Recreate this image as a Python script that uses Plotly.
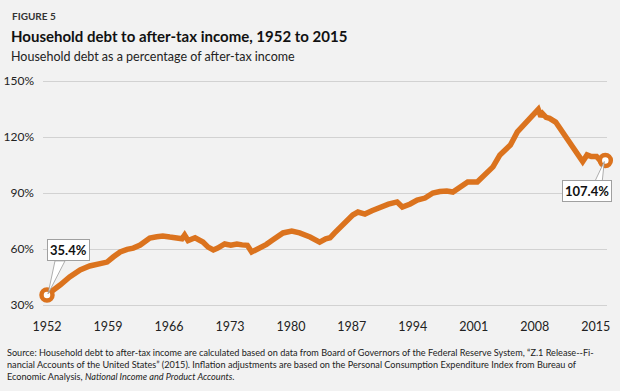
import plotly.graph_objects as go

# ---- data ----
years = [1952.0, 1952.8, 1953.5, 1954.6, 1955.8, 1956.9, 1958.0, 1958.9, 1959.6, 1960.4,
         1961.2, 1961.9, 1962.7, 1963.3, 1963.8, 1964.6, 1965.3, 1966.1, 1966.9, 1967.5,
         1967.8, 1968.2, 1969.0, 1969.9, 1970.5, 1971.1, 1971.6, 1972.4, 1973.1, 1973.8,
         1974.4, 1975.0, 1975.5, 1976.5, 1977.2, 1977.9, 1978.5, 1979.1, 1980.1, 1981.0,
         1982.2, 1983.3, 1984.0, 1984.5, 1985.0, 1985.6, 1986.2, 1987.1, 1987.7, 1988.5,
         1989.3, 1990.2, 1991.2, 1992.2, 1992.8, 1993.7, 1994.5, 1995.4, 1996.3, 1997.1,
         1997.9, 1998.6, 1999.4, 2000.3, 2001.4, 2002.0, 2002.5, 2003.2, 2004.0, 2005.2,
         2006.0, 2006.7, 2007.5, 2008.0, 2008.4, 2008.7, 2008.9, 2009.3, 2009.7, 2010.4,
         2011.0, 2012.0, 2012.7, 2013.3, 2013.5, 2014.0, 2014.5, 2015.1, 2015.6, 2016.1]
debt_pct = [35.4, 38.0, 40.7, 45.0, 48.8, 50.9, 52.0, 53.0, 55.7, 58.4,
            59.8, 60.5, 62.1, 64.5, 65.9, 66.6, 67.0, 66.4, 65.9, 65.5,
            67.5, 64.5, 66.0, 63.7, 61.0, 59.5, 60.5, 62.7, 62.0, 62.7,
            62.2, 62.0, 58.4, 60.5, 62.5, 64.8, 67.0, 68.6, 69.6, 68.6,
            66.4, 63.7, 65.5, 66.0, 68.5, 71.2, 74.5, 78.2, 79.8, 78.7,
            80.5, 82.5, 84.0, 85.2, 82.5, 84.1, 86.2, 87.3, 90.0, 90.8,
            91.1, 90.5, 92.7, 95.9, 95.9, 98.5, 101.2, 104.0, 110.4, 115.7,
            122.7, 126.4, 130.7, 133.0, 134.8, 131.0, 132.5, 130.5, 130.0, 128.0,
            124.0, 116.5, 112.0, 108.0, 106.8, 110.4, 109.5, 109.5, 107.0, 107.4]
tick_years = [1952, 1959, 1966, 1973, 1980, 1987, 1994, 2001, 2008, 2015]
y_ticks = [30, 60, 90, 120, 150]
first_label = "35.4%"
last_label = "107.4%"

ORANGE = "#db731e"
BG = "#f2f2f2"
FONT = "Lato"

fig = go.Figure()
fig.add_trace(go.Scatter(
    x=years, y=debt_pct, mode="lines",
    line=dict(color=ORANGE, width=5.5),
    hoverinfo="skip", showlegend=False))
fig.add_trace(go.Scatter(
    x=[years[0], years[-1]], y=[debt_pct[0], debt_pct[-1]], mode="markers",
    marker=dict(size=11, color="white", line=dict(color=ORANGE, width=4.5)),
    hoverinfo="skip", showlegend=False, cliponaxis=False))

# callout wedges (pixel offsets relative to the data points)
fig.add_shape(type="path", xref="x", yref="y", xsizemode="pixel", ysizemode="pixel",
              xanchor=years[0], yanchor=debt_pct[0],
              path="M 1 1 L 8 34 L 18 34 Z",
              fillcolor="white", line=dict(color="#9a9a9a", width=0.8), layer="above")
fig.add_shape(type="path", xref="x", yref="y", xsizemode="pixel", ysizemode="pixel",
              xanchor=years[-1], yanchor=debt_pct[-1],
              path="M -1 -1 L -10 -20 L -3 -20 Z",
              fillcolor="white", line=dict(color="#9a9a9a", width=0.8), layer="above")

fig.add_annotation(x=years[0], y=debt_pct[0], text="<b>" + first_label + "</b>",
                   showarrow=True, arrowcolor="rgba(0,0,0,0)", ax=21, ay=-45,
                   bgcolor="white", bordercolor="#a0a0a0", borderwidth=1, borderpad=2,
                   font=dict(family=FONT, size=13, color="#111"))
fig.add_annotation(x=years[-1], y=debt_pct[-1], text="<b>" + last_label + "</b>",
                   showarrow=True, arrowcolor="rgba(0,0,0,0)", ax=-18, ay=30,
                   bgcolor="white", bordercolor="#a0a0a0", borderwidth=1, borderpad=2,
                   font=dict(family=FONT, size=13, color="#111"))

# titles
fig.add_annotation(xref="paper", yref="paper", x=-0.058, y=1.25, xanchor="left", yanchor="middle",
                   text="<b>FIGURE 5</b>", showarrow=False,
                   font=dict(family=FONT, size=10, color="#333"))
fig.add_annotation(xref="paper", yref="paper", x=-0.06, y=1.165, xanchor="left", yanchor="middle",
                   text="<b>Household debt to after-tax income, 1952 to 2015</b>", showarrow=False,
                   font=dict(family=FONT, size=15, color="#111"))
fig.add_annotation(xref="paper", yref="paper", x=-0.06, y=1.08, xanchor="left", yanchor="middle",
                   text="Household debt as a percentage of after-tax income", showarrow=False,
                   font=dict(family=FONT, size=12.5, color="#222"))
fig.add_annotation(xref="paper", yref="paper", x=-0.068, y=-0.15, xanchor="left", yanchor="top",
                   align="left",
                   text=("Source: Household debt to after-tax income are calculated based on data from Board of Governors of the Federal Reserve System, \u201cZ.1 Release--Fi-<br>"
                         "nancial Accounts of the United States\u201d (2015). Inflation adjustments are based on the Personal Consumption Expenditure Index from Bureau of<br>"
                         "Economic Analysis, <i>National Income and Product Accounts</i>."),
                   showarrow=False, font=dict(family=FONT, size=9.15, color="#222"))

px_per_year = 8.71
x_left = 1952 - (47 - 43) / px_per_year
x_right = 1952 + (607 - 47) / px_per_year
px_per_unit = 56 / 30
fig.update_layout(
    width=620, height=391,
    margin=dict(l=43, r=13, t=75, b=81),
    paper_bgcolor=BG, plot_bgcolor=BG,
    font=dict(family=FONT, size=12, color="#222"),
    xaxis=dict(range=[x_left, x_right], tickvals=tick_years, ticktext=[str(t) for t in tick_years],
               showgrid=False, zeroline=False, showline=False, ticks="outside", ticklen=5,
               tickcolor="rgba(0,0,0,0)", tickfont=dict(size=12.5), automargin=False),
    yaxis=dict(range=[30 - 5 / px_per_unit, 150 + 6 / px_per_unit], tickvals=y_ticks,
               ticktext=[f"{v}%" for v in y_ticks], showgrid=True, gridcolor="#d2d2d2",
               gridwidth=1, zeroline=False, showline=False, ticks="", ticklabelstandoff=8,
               tickfont=dict(size=12), automargin=False),
)
fig.write_html("out.html", config={"displayModeBar": False},
               post_script="document.body.style.margin='0';document.body.style.background='#f2f2f2';")
